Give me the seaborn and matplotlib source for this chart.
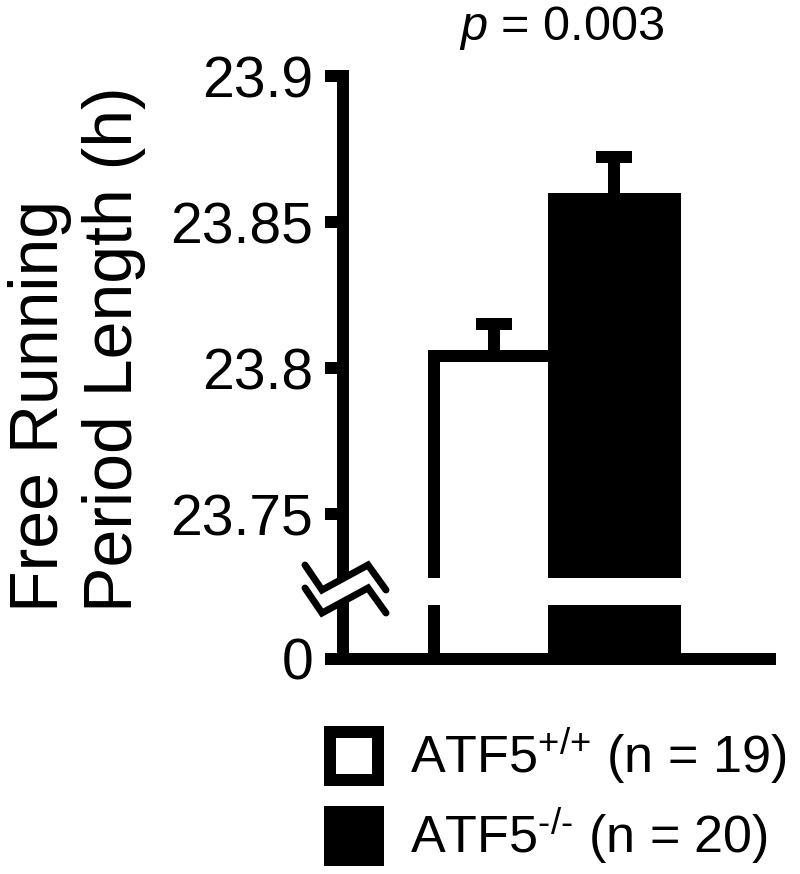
import numpy as np
import pandas as pd
import matplotlib
matplotlib.use("Agg")
import matplotlib.pyplot as plt
from matplotlib.patches import Patch, Polygon
from matplotlib.lines import Line2D
import seaborn as sns

# data
genotypes = ["ATF5+/+", "ATF5-/-"]
means = [23.8041, 23.8579]
sems = [0.0110, 0.0144]
n_mice = [19, 20]
bar_colors = ["white", "black"]
upper_ticks = [23.75, 23.8, 23.85, 23.9]
upper_tick_labels = ["23.75", "23.8", "23.85", "23.9"]
legend_labels = [r"ATF5$^{\text{+/+}}$ (n = 19)", r"ATF5$^{\text{-/-}}$ (n = 20)"]
p_text = r"$p$ = 0.003"

data = pd.DataFrame({"genotype": genotypes, "period": means})

sns.set_style("ticks")
plt.rcParams["font.family"] = ["Liberation Sans", "DejaVu Sans"]
plt.rcParams["mathtext.fontset"] = "custom"
plt.rcParams["mathtext.rm"] = "Liberation Sans"
plt.rcParams["mathtext.it"] = "Liberation Sans:italic"
for key in ("axes.edgecolor", "xtick.color", "ytick.color", "text.color",
            "axes.labelcolor", "xtick.labelcolor", "ytick.labelcolor"):
    plt.rcParams[key] = "black"

W, H = 800, 874
fig = plt.figure(figsize=(W / 100, H / 100), dpi=100)
fig.patch.set_facecolor("white")

LW = 8.64  # ~12 px
x_left, x_right = 343, 770
ax_up = fig.add_axes([x_left / W, 1 - 578 / H, (x_right - x_left) / W, (578 - 76) / H])
ax_lo = fig.add_axes([x_left / W, 1 - 659 / H, (x_right - x_left) / W, (659 - 605) / H])

for ax in (ax_up, ax_lo):
    sns.barplot(data=data, x="genotype", y="period", hue="genotype",
                palette=bar_colors, legend=False, errorbar=None, width=1.0,
                edgecolor="black", linewidth=LW, ax=ax)
    ax.set_facecolor("none")
    ax.set_xlabel("")
    ax.set_ylabel("")
    ax.set_xticks([])
    ax.set_xlim(-1.2531, 2.2905)
    for s in ("top", "right"):
        ax.spines[s].set_visible(False)
    ax.spines["left"].set_linewidth(LW)
    ax.spines["bottom"].set_linewidth(LW)
    ax.tick_params(axis="y", length=13, width=LW, pad=8.6, labelsize=41,
                   direction="out", color="black", labelcolor="black")

# upper error bars (SEM, upward only)
ax_up.errorbar(np.arange(len(genotypes)), means, yerr=[[0, 0], sems], fmt="none",
               ecolor="black", elinewidth=LW, capsize=13, capthick=LW, zorder=1)

ax_up.set_ylim(23.7281, 23.9)
ax_up.set_yticks(upper_ticks)
ax_up.set_yticklabels(upper_tick_labels)
ax_up.spines["bottom"].set_visible(False)

ax_lo.set_ylim(0, 1)
ax_lo.set_yticks([0])
ax_lo.set_yticklabels(["0"])

# axis break marks
def fp(pts):
    return [(x / W, 1 - y / H) for x, y in pts]

top_zig = [(305, 565), (322, 590), (368, 565), (386, 590)]
bot_zig = [(305, 588), (322, 613), (368, 588), (386, 613)]
fig.add_artist(Polygon(fp(top_zig + bot_zig[::-1]), closed=True, facecolor="white",
                       edgecolor="none", transform=fig.transFigure, zorder=5))
for zz in (top_zig, bot_zig):
    xs, ys = zip(*fp(zz))
    fig.add_artist(Line2D(xs, ys, color="black", lw=5, transform=fig.transFigure,
                          zorder=6, solid_joinstyle="miter"))

# y label and p value
fig.text(0.096, 1 - 612 / H, "Free Running\nPeriod Length (h)", rotation=90,
         ha="center", va="bottom", fontsize=49, multialignment="left")
fig.text(562 / W, 1 - 40 / H, p_text, ha="center", va="baseline", fontsize=35)

# legend
handles = [Patch(facecolor=c, edgecolor="black", linewidth=LW) for c in bar_colors]
fig.legend(handles, legend_labels, loc="upper left", bbox_to_anchor=(330 / W, 1 - 726 / H),
           frameon=False, fontsize=37.5, borderpad=0, borderaxespad=0,
           handlelength=0.92, handleheight=1.05, handletextpad=0.62, labelspacing=0.35)

fig.savefig("out.png", dpi=100, facecolor="white")
